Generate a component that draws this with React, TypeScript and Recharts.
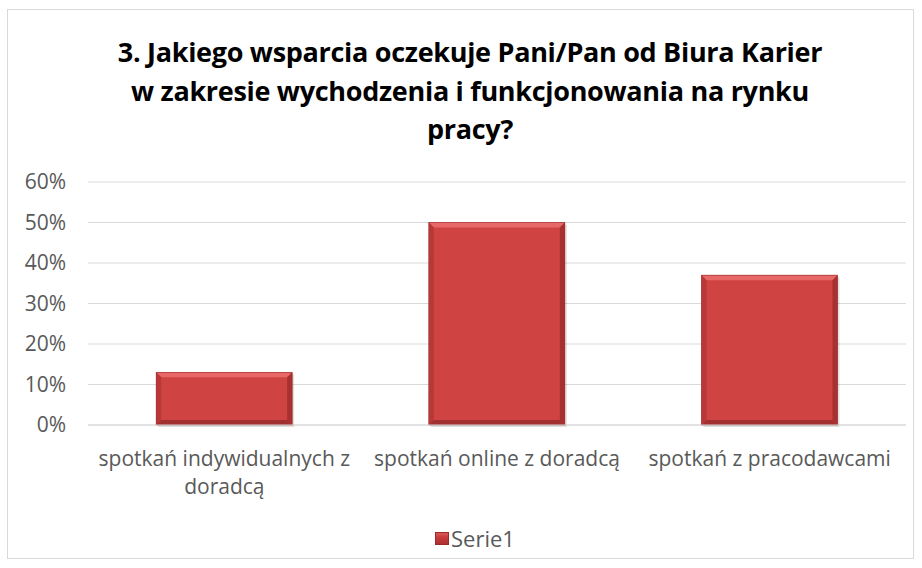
import React from "react";
import { BarChart, Bar, XAxis, YAxis, CartesianGrid } from "recharts";

const categories = ["spotkań indywidualnych z doradcą", "spotkań online z doradcą", "spotkań z pracodawcami"];
const values = [0.13, 0.5, 0.37];
const yTicks = [0, 0.1, 0.2, 0.3, 0.4, 0.5, 0.6];
const seriesName = "Serie1";
const titleLines = [
  "3. Jakiego wsparcia oczekuje Pani/Pan od Biura Karier",
  "w zakresie wychodzenia i funkcjonowania na rynku",
  "pracy?",
];

const data = categories.map((c, i) => ({ name: c, value: values[i] }));

const FONT = "'Open Sans', sans-serif";
const GRAY = "#595959";
const TICK_SIZE = 21;

let measureCtx: CanvasRenderingContext2D | null = null;
function measure(text: string): number {
  if (!measureCtx) {
    const c = document.createElement("canvas");
    measureCtx = c.getContext("2d");
  }
  if (!measureCtx) return text.length * TICK_SIZE * 0.5;
  measureCtx.font = `${TICK_SIZE}px 'Open Sans', sans-serif`;
  return measureCtx.measureText(text).width;
}

function wrap(text: string, maxWidth: number): string[] {
  const words = text.split(" ");
  const lines: string[] = [];
  let cur = "";
  for (const w of words) {
    const test = cur ? cur + " " + w : w;
    if (cur && measure(test) > maxWidth) {
      lines.push(cur);
      cur = w;
    } else {
      cur = test;
    }
  }
  if (cur) lines.push(cur);
  return lines;
}

const BevelBar = (props: any) => {
  const { x, y, width, height } = props;
  if (!height || height <= 0) return null;
  const b = Math.min(5, height / 2, width / 2);
  const x2 = x + width;
  const y2 = y + height;
  return (
    <g>
      <rect x={x + 2} y={y + 2} width={width} height={height} fill="rgba(0,0,0,0.12)" />
      <rect x={x} y={y} width={width} height={height} fill="#CF4343" />
      <polygon points={`${x},${y} ${x2},${y} ${x2 - b},${y + b} ${x + b},${y + b}`} fill="#E86868" />
      <polygon points={`${x},${y} ${x + b},${y + b} ${x + b},${y2 - b} ${x},${y2}`} fill="#B83838" />
      <polygon points={`${x2},${y} ${x2},${y2} ${x2 - b},${y2 - b} ${x2 - b},${y + b}`} fill="#A83030" />
      <polygon points={`${x},${y2} ${x + b},${y2 - b} ${x2 - b},${y2 - b} ${x2},${y2}`} fill="#A23030" />
      <rect x={x} y={y} width={width} height={height} fill="none" stroke="#9A2B2B" strokeWidth={0.6} />
    </g>
  );
};

const XTick = (props: any) => {
  const { x, y, payload } = props;
  const lines = wrap(String(payload.value), 268);
  return (
    <text x={x} y={y + 33} textAnchor="middle" fontFamily={FONT} fontSize={TICK_SIZE} fill={GRAY}>
      {lines.map((l, i) => (
        <tspan key={i} x={x} dy={i === 0 ? 0 : 28}>
          {l}
        </tspan>
      ))}
    </text>
  );
};

export default function App() {
  return (
    <div style={{ position: "absolute", left: 0, top: 0, width: 922, height: 568, background: "#fff" }}>
      <div
        style={{
          position: "absolute",
          left: 7,
          top: 9,
          width: 907,
          height: 550,
          border: "1px solid #D9D9D9",
          boxSizing: "border-box",
        }}
      />
      <div
        style={{
          position: "absolute",
          left: 9,
          top: 33,
          width: 922,
          textAlign: "center",
          fontFamily: FONT,
          fontWeight: 700,
          fontSize: 27,
          lineHeight: "38.5px",
          color: "#000",
          letterSpacing: -0.3,
        }}
      >
        {titleLines.map((l, i) => (
          <div key={i}>{l}</div>
        ))}
      </div>
      <div style={{ position: "absolute", left: 0, top: 0 }}>
        <BarChart
          width={922}
          height={568}
          data={data}
          margin={{ top: 182, right: 16, left: 0, bottom: 83 }}
          barCategoryGap="25%"
        >
          <CartesianGrid vertical={false} stroke="#D9D9D9" />
          <YAxis
            width={88}
            domain={[0, 0.6]}
            ticks={yTicks}
            tickFormatter={(v: number) => `${Math.round(v * 100)}%`}
            axisLine={false}
            tickLine={false}
            tickMargin={16}
            tick={{ fill: GRAY, fontSize: 21, fontFamily: FONT }}
          />
          <XAxis
            dataKey="name"
            height={60}
            axisLine={{ stroke: "#D9D9D9" }}
            tickLine={false}
            interval={0}
            tick={<XTick />}
          />
          <Bar dataKey="value" name={seriesName} isAnimationActive={false} shape={<BevelBar />} />
        </BarChart>
      </div>
      <div
        style={{
          position: "absolute",
          left: 0,
          top: 524,
          width: 922,
          display: "flex",
          justifyContent: "center",
          alignItems: "center",
          fontFamily: FONT,
          fontSize: 22,
          lineHeight: "28px",
          color: GRAY,
          paddingLeft: 28,
          boxSizing: "border-box",
        }}
      >
        <span
          style={{
            display: "inline-block",
            width: 14,
            height: 13,
            background: "linear-gradient(180deg, #E06060 0%, #C83C3C 40%, #A83030 100%)",
            marginRight: 2,
            boxShadow: "inset 0 0 0 1px #9A2B2B",
          }}
        />
        <span>{seriesName}</span>
      </div>
    </div>
  );
}
